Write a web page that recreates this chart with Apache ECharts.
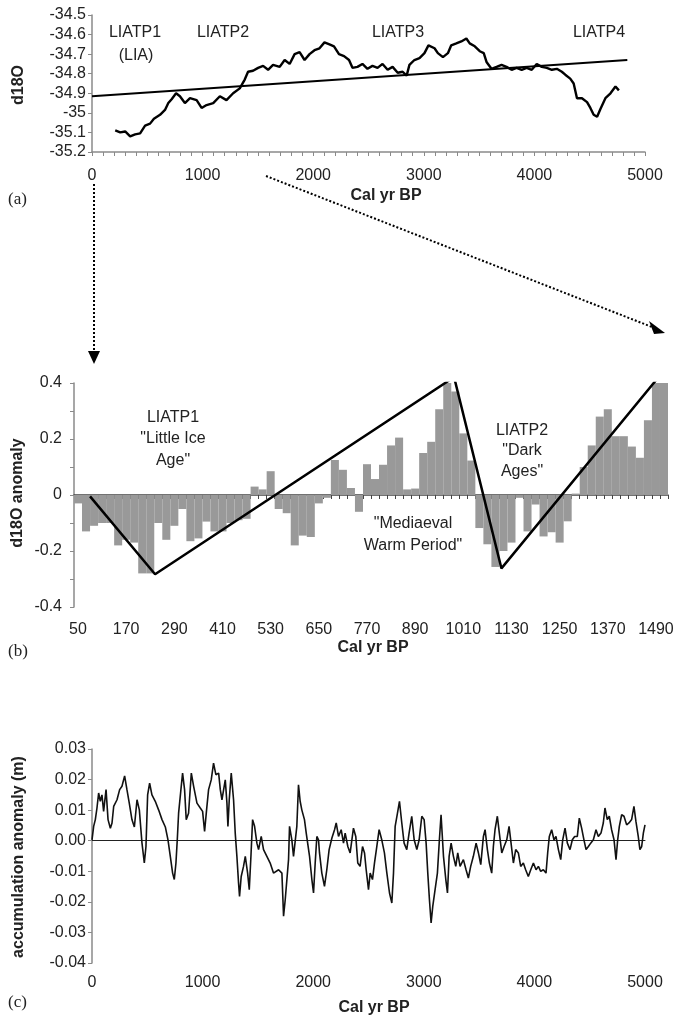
<!DOCTYPE html>
<html><head><meta charset="utf-8">
<script src="https://cdn.jsdelivr.net/npm/echarts@6/dist/echarts.min.js"></script>
<style>html,body{margin:0;padding:0;background:#fff}#c{width:676px;height:1017px}</style>
</head><body><div id="c"></div>
<script>
// ---------- Panel (a): d18O ----------
const yearsA = [210,255,300,345,390,435,480,525,560,615,660,690,720,760,795,840,886,946,991,1036,1096,1156,1216,1276,1336,1381,1411,1456,1502,1547,1592,1637,1697,1742,1787,1832,1877,1922,1967,2012,2057,2102,2147,2188,2233,2279,2324,2355,2400,2445,2491,2536,2582,2627,2673,2718,2764,2809,2845,2870,2915,2961,3006,3042,3097,3127,3173,3218,3248,3294,3339,3385,3415,3461,3506,3542,3567,3612,3658,3703,3748,3794,3839,3885,3930,3976,4021,4067,4112,4158,4203,4248,4279,4324,4355,4385,4430,4476,4506,4536,4567,4597,4642,4688,4733,4764];
const d18O = [-35.09,-35.10,-35.095,-35.12,-35.11,-35.105,-35.065,-35.055,-35.03,-35.01,-34.985,-34.95,-34.93,-34.90,-34.915,-34.95,-34.925,-34.935,-34.975,-34.96,-34.95,-34.915,-34.935,-34.90,-34.875,-34.83,-34.79,-34.785,-34.77,-34.76,-34.78,-34.755,-34.765,-34.73,-34.75,-34.70,-34.69,-34.73,-34.70,-34.68,-34.67,-34.64,-34.65,-34.66,-34.70,-34.71,-34.73,-34.77,-34.765,-34.75,-34.775,-34.76,-34.77,-34.75,-34.78,-34.765,-34.795,-34.79,-34.81,-34.755,-34.73,-34.72,-34.695,-34.655,-34.67,-34.695,-34.715,-34.695,-34.655,-34.645,-34.635,-34.62,-34.645,-34.66,-34.685,-34.695,-34.74,-34.775,-34.765,-34.755,-34.765,-34.78,-34.77,-34.78,-34.77,-34.78,-34.75,-34.765,-34.77,-34.78,-34.775,-34.79,-34.805,-34.825,-34.85,-34.925,-34.925,-34.945,-34.975,-35.01,-35.02,-34.98,-34.925,-34.90,-34.865,-34.885];
const trendAYears = [0, 4840];
const trendAValues = [-34.915, -34.73];
const labelsA = [["LIATP1",135,33],["(LIA)",136,56],["LIATP2",223,33],["LIATP3",398,33],["LIATP4",599,33]];

// ---------- Panel (b): d18O anomaly (20-yr bins) ----------
const catsB = ["50","70","90","110","130","150","170","190","210","230","250","270","290","310","330","350","370","390","410","430","450","470","490","510","530","550","570","590","610","630","650","670","690","710","730","750","770","790","810","830","850","870","890","910","930","950","970","990","1010","1030","1050","1070","1090","1110","1130","1150","1170","1190","1210","1230","1250","1270","1290","1310","1330","1350","1370","1390","1410","1430","1450","1470","1490","1510"];
const anomB = [-0.03,-0.13,-0.11,-0.10,-0.10,-0.18,-0.16,-0.17,-0.28,-0.28,-0.10,-0.16,-0.11,-0.05,-0.165,-0.155,-0.095,-0.13,-0.13,-0.10,-0.09,-0.085,0.03,0.02,0.085,-0.05,-0.065,-0.18,-0.145,-0.15,-0.03,-0.01,0.125,0.09,0.025,-0.06,0.11,0.057,0.108,0.177,0.205,0.02,0.023,0.15,0.19,0.306,0.405,0.37,0.22,0.123,-0.118,-0.176,-0.257,-0.20,-0.17,-0.01,-0.13,-0.034,-0.148,-0.133,-0.17,-0.094,0.005,0.10,0.177,0.28,0.306,0.21,0.21,0.173,0.133,0.267,0.40,0.40];
const trendBYears = [80, 242, 987, 1105, 1516];
const trendBValues = [-0.005, -0.283, 0.421, -0.262, 0.455];
const labelsB = [["LIATP1",173,418],["\"Little Ice",173,439],["Age\"",173,461],["LIATP2",522,431],["\"Dark",522,451],["Ages\"",522,472],["\"Mediaeval",413,524],["Warm Period\"",413,546]];

// ---------- Panel (c): accumulation anomaly ----------
const yearsC = [0,15,30,45,60,75,90,105,127,145,166,181,196,226,250,271,295,316,337,361,383,407,428,452,473,488,503,521,542,572,602,633,663,687,708,729,744,759,771,783,804,819,837,852,873,898,919,949,979,1000,1018,1036,1054,1078,1099,1120,1145,1160,1175,1205,1220,1229,1241,1259,1280,1295,1310,1325,1334,1349,1370,1386,1407,1422,1437,1452,1470,1491,1506,1530,1551,1581,1611,1641,1687,1717,1732,1747,1777,1786,1807,1822,1852,1867,1882,1897,1921,1937,1967,1988,2003,2018,2033,2048,2057,2078,2102,2123,2144,2169,2193,2208,2229,2253,2274,2289,2313,2334,2364,2385,2403,2424,2446,2464,2479,2500,2515,2536,2554,2575,2596,2620,2644,2666,2690,2711,2726,2741,2762,2780,2801,2822,2846,2867,2891,2913,2937,2958,2982,3003,3021,3036,3051,3066,3081,3102,3123,3141,3156,3178,3199,3214,3229,3247,3268,3289,3307,3328,3358,3382,3403,3424,3448,3473,3494,3515,3539,3554,3575,3593,3614,3629,3644,3665,3683,3705,3726,3750,3771,3789,3810,3831,3855,3876,3900,3921,3945,3967,3991,4015,4036,4057,4081,4105,4120,4135,4156,4177,4195,4217,4238,4256,4277,4298,4322,4343,4364,4388,4406,4427,4448,4467,4488,4509,4533,4557,4578,4602,4623,4638,4659,4677,4698,4720,4738,4753,4768,4789,4810,4834,4855,4879,4900,4918,4939,4954,4970,4985,5000];
const accC = [0.0003,0.0047,0.0069,0.0107,0.0156,0.0129,0.015,0.0096,0.0167,0.0069,0.0041,0.0058,0.0112,0.0134,0.0167,0.0178,0.0212,0.0167,0.0123,0.0069,0.0045,0.0134,0.0101,-0.0008,-0.0073,-0.0019,0.015,0.0188,0.015,0.0129,0.0101,0.0069,0.0045,0.0003,-0.0051,-0.0106,-0.0127,-0.0073,0.0003,0.009,0.0167,0.0221,0.0167,0.0069,0.009,0.0221,0.0178,0.0123,0.0107,0.0096,0.003,0.0101,0.0167,0.0199,0.0254,0.0216,0.0221,0.0167,0.0134,0.0199,0.0123,0.0047,0.0134,0.0221,0.0134,0.0025,-0.0051,-0.0138,-0.0182,-0.0117,-0.0084,-0.0051,-0.0106,-0.016,-0.0051,0.0069,0.0047,-0.0008,-0.0029,0.0014,-0.0029,-0.0051,-0.0073,-0.0106,-0.0095,-0.0106,-0.0247,-0.0193,-0.0062,0.0047,0.0003,-0.0051,0.0047,0.0183,0.0129,0.0101,0.0069,0.0025,-0.0051,-0.0127,-0.0171,-0.0073,0.0014,0.0003,-0.004,-0.0106,-0.0149,-0.0095,-0.0029,0.0009,0.0036,0.0058,0.0014,0.0036,-0.0008,0.0025,-0.0019,-0.004,0.0041,0.0014,-0.0073,-0.0084,-0.0019,-0.004,-0.0095,-0.016,-0.0106,-0.0127,-0.0073,-0.0019,0.0036,0.0003,-0.004,-0.0106,-0.0171,-0.0204,-0.0106,0.0047,0.009,0.0129,0.0058,-0.0008,-0.0029,0.0025,0.008,0.0003,-0.0029,0.0003,0.008,0.0069,-0.0008,-0.0106,-0.0193,-0.0269,-0.0215,-0.016,-0.0106,0.0003,0.0085,-0.0051,-0.0127,-0.0171,-0.0051,-0.0008,-0.0051,-0.0084,-0.004,-0.0084,-0.0062,-0.0095,-0.0122,-0.0084,-0.0051,-0.0008,-0.004,-0.0078,0.0014,0.0036,-0.0029,-0.0073,-0.0106,-0.0019,0.0036,0.008,0.0025,-0.004,-0.0019,0.0003,0.0047,-0.0008,-0.0073,-0.0029,-0.004,-0.0084,-0.0073,-0.0095,-0.0117,-0.0095,-0.0073,-0.0095,-0.0084,-0.01,-0.0095,-0.0106,-0.004,0.0014,0.0036,0.0003,0.0014,-0.0029,-0.0062,0.0003,0.0041,-0.0008,-0.0029,0.0003,0.0014,0.0014,0.0074,0.0041,0.0003,-0.0029,-0.0019,-0.0008,0.0003,0.0036,0.0014,0.0025,0.0058,0.0107,0.0069,0.008,0.0036,0.0003,-0.0062,0.0003,0.0047,0.0085,0.008,0.0052,0.0058,0.0069,0.0112,0.0063,0.0014,-0.0029,-0.0019,0.0025,0.0052];

// ---------- Chart ----------
const FONT = 'Liberation Sans, Arial, sans-serif';
const TXT = '#222';
const AX = '#8a8a8a';
const zip = (a, b) => a.map((v, i) => [v, b[i]]);
const plain = v => String(v);

function text(t, x, y, o) {
  o = o || {};
  return {
    type: 'text', x: x, y: y, rotation: o.rot || 0, silent: true,
    style: {
      text: t, fill: TXT,
      font: o.font || ('16px ' + FONT),
      align: o.align || 'center', verticalAlign: 'middle',
      textAlign: o.align || 'center', textVerticalAlign: 'middle'
    }
  };
}

const graphics = [];
labelsA.forEach(l => graphics.push(text(l[0], l[1], l[2])));
labelsB.forEach(l => graphics.push(text(l[0], l[1], l[2])));
graphics.push(text('d18O', 19, 85, {rot: Math.PI / 2, font: 'bold 16px ' + FONT}));
graphics.push(text('d18O anomaly', 18, 493, {rot: Math.PI / 2, font: 'bold 16px ' + FONT}));
graphics.push(text('accumulation anomaly (m)', 19, 857, {rot: Math.PI / 2, font: 'bold 16px ' + FONT}));
graphics.push(text('Cal yr BP', 386, 196, {font: 'bold 16px ' + FONT}));
graphics.push(text('Cal yr BP', 373, 648, {font: 'bold 16px ' + FONT}));
graphics.push(text('Cal yr BP', 374, 1008, {font: 'bold 16px ' + FONT}));
graphics.push(text('(a)', 8, 200, {align: 'left', font: '17px Liberation Serif, Times New Roman, serif'}));
graphics.push(text('(b)', 8, 652, {align: 'left', font: '17px Liberation Serif, Times New Roman, serif'}));
graphics.push(text('(c)', 8, 1003, {align: 'left', font: '17px Liberation Serif, Times New Roman, serif'}));
// dotted arrows
graphics.push({type: 'line', silent: true, shape: {x1: 94, y1: 184, x2: 94, y2: 352}, style: {stroke: '#000', lineWidth: 2, lineDash: [2, 2]}});
graphics.push({type: 'polygon', silent: true, shape: {points: [[88, 351], [100, 351], [94, 364]]}, style: {fill: '#000'}});
graphics.push({type: 'line', silent: true, shape: {x1: 266, y1: 176, x2: 652, y2: 327}, style: {stroke: '#000', lineWidth: 2, lineDash: [2, 2]}});
graphics.push({type: 'polygon', silent: true, shape: {points: [[649, 321], [654, 334], [665, 333]]}, style: {fill: '#000'}});

const labelStyle = {color: TXT, fontSize: 16, fontFamily: FONT};
const gridBase = {containLabel: false, outerBoundsMode: 'none'};

const option = {
  animation: false,
  backgroundColor: '#fff',
  grid: [
    Object.assign({left: 92, top: 15, width: 553, height: 137}, gridBase),
    Object.assign({left: 74, top: 383, width: 594, height: 224}, gridBase),
    Object.assign({left: 92, top: 749, width: 553, height: 214}, gridBase)
  ],
  xAxis: [
    // 0: panel a
    {gridIndex: 0, type: 'value', min: 0, max: 5000, interval: 1000, position: 'bottom',
     axisLine: {onZero: false, lineStyle: {color: AX, width: 1.5}},
     axisTick: {show: true, length: 4, lineStyle: {color: AX}},
     minorTick: {show: true, splitNumber: 10, length: 4, lineStyle: {color: AX}},
     splitLine: {show: false},
     axisLabel: Object.assign({margin: 16, formatter: plain}, labelStyle)},
    // 1: panel b labels at bottom
    {gridIndex: 1, type: 'category', data: catsB, boundaryGap: true, position: 'bottom',
     axisLine: {show: false, onZero: false},
     axisTick: {show: false},
     splitLine: {show: false},
     axisLabel: Object.assign({margin: 15, interval: 5}, labelStyle)},
    // 2: panel b zero line with ticks
    {gridIndex: 1, type: 'category', data: catsB, boundaryGap: true, position: 'bottom',
     axisLine: {show: true, onZero: true, lineStyle: {color: '#444', width: 1.5}},
     axisTick: {show: true, interval: 0, length: 4, lineStyle: {color: '#444'}},
     splitLine: {show: false},
     axisLabel: {show: false}},
    // 3: panel b hidden value axis for the trend line
    {gridIndex: 1, type: 'value', min: 40, max: 1520, show: false},
    // 4: panel c labels at bottom
    {gridIndex: 2, type: 'value', min: 0, max: 5000, interval: 1000, position: 'bottom',
     axisLine: {show: false, onZero: false},
     axisTick: {show: false},
     splitLine: {show: false},
     axisLabel: Object.assign({margin: 12, formatter: plain}, labelStyle)},
    // 5: panel c zero line
    {gridIndex: 2, type: 'value', min: 0, max: 5000, interval: 1000, position: 'bottom',
     axisLine: {show: true, onZero: true, lineStyle: {color: '#222', width: 1}},
     axisTick: {show: false},
     splitLine: {show: false},
     axisLabel: {show: false}}
  ],
  yAxis: [
    {gridIndex: 0, type: 'value', min: -35.2, max: -34.5, interval: 0.1,
     axisLine: {show: true, onZero: false, lineStyle: {color: AX, width: 1.5}},
     axisTick: {show: true, length: 4, lineStyle: {color: AX}},
     splitLine: {show: false},
     axisLabel: Object.assign({margin: 6}, labelStyle)},
    {gridIndex: 1, type: 'value', min: -0.4, max: 0.4, interval: 0.2,
     axisLine: {show: true, onZero: false, lineStyle: {color: AX, width: 1.5}},
     axisTick: {show: true, length: 4, lineStyle: {color: AX}},
     minorTick: {show: true, splitNumber: 2, length: 4, lineStyle: {color: AX}},
     splitLine: {show: false},
     axisLabel: Object.assign({margin: 12}, labelStyle)},
    {gridIndex: 2, type: 'value', min: -0.04, max: 0.03, interval: 0.01,
     axisLine: {show: true, onZero: false, lineStyle: {color: AX, width: 1.5}},
     axisTick: {show: true, length: 4, lineStyle: {color: AX}},
     splitLine: {show: false},
     axisLabel: Object.assign({margin: 6, formatter: v => v.toFixed(2)}, labelStyle)}
  ],
  series: [
    {type: 'line', xAxisIndex: 0, yAxisIndex: 0, data: zip(yearsA, d18O), showSymbol: false,
     lineStyle: {color: '#000', width: 2.4}, z: 3},
    {type: 'line', xAxisIndex: 0, yAxisIndex: 0, data: zip(trendAYears, trendAValues), showSymbol: false,
     lineStyle: {color: '#000', width: 2}, z: 4},
    {type: 'bar', xAxisIndex: 2, yAxisIndex: 1, data: anomB, barCategoryGap: '0%', barGap: '0%',
     itemStyle: {color: '#999999'}, z: 2},
    {type: 'line', xAxisIndex: 3, yAxisIndex: 1, data: zip(trendBYears, trendBValues), showSymbol: false,
     lineStyle: {color: '#000', width: 2.5}, z: 5},
    {type: 'line', xAxisIndex: 5, yAxisIndex: 2, data: zip(yearsC, accC), showSymbol: false,
     lineStyle: {color: '#111', width: 1.6}, z: 3}
  ],
  graphic: graphics
};

const chart = echarts.init(document.getElementById('c'), null, {renderer: 'canvas'});
chart.setOption(option);
</script>
</body></html>
